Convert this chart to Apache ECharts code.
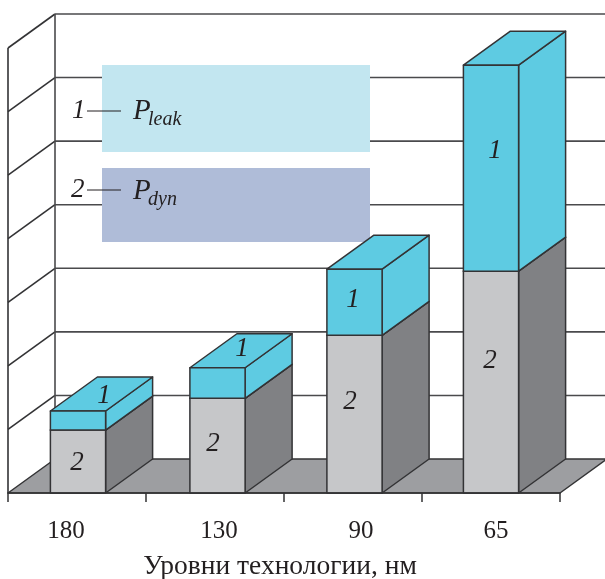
<!DOCTYPE html>
<html>
<head>
<meta charset="utf-8">
<style>
	html, body { margin: 0; background: #fff; }
	#chart { width: 605px; height: 579px; }
</style>
<script src="https://cdn.jsdelivr.net/npm/echarts@6/dist/echarts.min.js"></script>
</head>
<body>
<div id="chart"></div>
<script>
const categories = ['180', '130', '90', '65'];
const dynValues = [0.99, 1.49, 2.48, 3.49];
const leakValues = [0.3, 0.48, 1.04, 3.24];
const gridLevels = [0, 1, 2, 3, 4, 5, 6, 7];
const axisTitle = 'Уровни технологии, нм';

// oblique projection of the pseudo 3d bars, px
const depthX = 47,
	depthY = 34,
	line = '#333335',
	serif = '"Liberation Serif", serif',
	// the original is hand drawn: bars and tick labels sit a little off the band centres
	barShift = [1, 2.5, 1.5, 0],
	tickShift = [-11, 4, 8, 5],
	// hand placement of the numbers on the bars, px from the band and segment centre
	dynShift = [[0, 1], [-2, -2], [-3, -12], [-1, -21]],
	leakShift = [[27, -25], [27, -34], [0, -2], [4, -17]],
	colors = {
		leakFront: '#5ecbe2',
		leakTop: '#5ecbe2',
		leakSide: '#5ecbe2',
		dynFront: '#c6c7c9',
		dynTop: '#c6c7c9',
		dynSide: '#808184',
		floor: '#9d9ea1',
	};

const poly = (points, fill) => ({
		type: 'polygon',
		shape: { points },
		style: { fill, stroke: line, lineWidth: 1.5, lineJoin: 'round' },
	}),
	seg = (x1, y1, x2, y2, stroke = '#4a4a4c') => ({
		type: 'line',
		shape: { x1, y1, x2, y2 },
		style: { stroke, lineWidth: 1.6 },
	});

const renderWall = (params, api) => {
		const level = api.value(0),
			band = api.size([1, 0])[0],
			y = api.coord([0, level])[1],
			x0 = api.coord([0, 0])[0] - band / 2,
			x1 = api.coord([categories.length - 1, 0])[0] + band / 2,
			children = [];

		if (level === 0) {
			children.push(poly([[x0, y], [x1, y], [x1 + depthX, y - depthY], [x0 + depthX, y - depthY]], colors.floor));
			return { type: 'group', children };
		}
		children.push(seg(x0, y, x0 + depthX, y - depthY, line));
		children.push(seg(x0 + depthX, y - depthY, x1 + depthX, y - depthY));
		if (level === gridLevels[gridLevels.length - 1]) {
			const y0 = api.coord([0, 0])[1];
			children.push(seg(x0, y, x0, y0, line));
			children.push(seg(x0 + depthX, y - depthY, x0 + depthX, y0 - depthY));
		}
		return { type: 'group', children };
	},
	renderBar = (names, shifts) => (params, api) => {
		const idx = api.value(0),
			band = api.size([1, 0])[0],
			w = band * 0.4,
			cx = api.coord([idx, 0])[0],
			yLow = api.coord([idx, api.value(1)])[1],
			yHigh = api.coord([idx, api.value(2)])[1],
			l = cx + barShift[idx] - w / 2,
			r = cx + barShift[idx] + w / 2,
			shift = shifts[idx];

		return {
			type: 'group',
			children: [
				poly([[r, yLow], [r + depthX, yLow - depthY], [r + depthX, yHigh - depthY], [r, yHigh]], colors[names + 'Side']),
				poly([[l, yHigh], [r, yHigh], [r + depthX, yHigh - depthY], [l + depthX, yHigh - depthY]], colors[names + 'Top']),
				poly([[l, yLow], [r, yLow], [r, yHigh], [l, yHigh]], colors[names + 'Front']),
				{
					type: 'text',
					z2: 10,
					style: {
						text: names === 'leak' ? '1' : '2',
						x: cx + shift[0],
						y: (yLow + yHigh) / 2 + shift[1],
						align: 'center',
						verticalAlign: 'middle',
						font: 'italic 27px ' + serif,
						fill: '#231f20',
					},
				},
			],
		};
	};

const legendText = (text, x, y, size) => ({
		type: 'text',
		z: 1,
		style: { text, x, y, font: 'italic ' + size + 'px ' + serif, fill: '#231f20', verticalAlign: 'middle' },
	}),
	legendRect = (x, y, width, height, fill) => ({
		type: 'rect',
		z: 1,
		shape: { x, y, width, height },
		style: { fill },
	}),
	legendLine = (x1, x2, y) => ({
		type: 'line',
		z: 1,
		shape: { x1, y1: y, x2, y2: y },
		style: { stroke: '#231f20', lineWidth: 1 },
	});

// padding on one side of a rich token moves the centred label the other way
const tickRich = Object.fromEntries(
	tickShift.map((s, i) => [
		't' + i,
		{
			color: '#231f20',
			fontFamily: 'Liberation Serif',
			fontSize: 25,
			padding: [0, s < 0 ? -2 * s : 0, 0, s > 0 ? 2 * s : 0],
		},
	]),
);

const chart = echarts.init(document.getElementById('chart'), null, { renderer: 'canvas' });

chart.setOption({
	animation: false,
	backgroundColor: '#fff',
	grid: { left: 8, right: 45, top: 48, bottom: 86, outerBoundsMode: 'none' },
	xAxis: {
		type: 'category',
		data: categories,
		z: 5,
		axisLine: { lineStyle: { color: line, width: 1.5 } },
		axisTick: { show: true, length: 9, lineStyle: { color: line, width: 1.5 } },
		axisLabel: {
			margin: 26,
			formatter: (value, i) => '{t' + i + '|' + value + '}',
			rich: tickRich,
		},
		name: axisTitle,
		nameLocation: 'middle',
		nameGap: 60,
		nameTextStyle: { color: '#231f20', fontFamily: 'Liberation Serif', fontSize: 27.5, padding: [0, 8, 0, 0] },
	},
	yAxis: {
		type: 'value',
		min: 0,
		max: 7,
		interval: 1,
		axisLine: { show: false },
		axisTick: { show: false },
		axisLabel: { show: false },
		splitLine: { show: false },
	},
	graphic: [
		legendRect(102, 65, 268, 87, '#c2e6f0'),
		legendRect(102, 168, 268, 74, '#afbcd8'),
		legendLine(87, 121, 111),
		legendLine(87, 121, 190),
		legendText('1', 72, 111, 27),
		legendText('2', 71, 190, 27),
		legendText('P', 133, 111, 29),
		legendText('leak', 148, 120, 20),
		legendText('P', 133, 191, 29),
		legendText('dyn', 148, 200, 20),
	],
	series: [
		{
			type: 'custom',
			z: 0,
			silent: true,
			renderItem: renderWall,
			encode: { y: 0 },
			data: gridLevels.map((v) => [v]),
		},
		{
			type: 'custom',
			z: 3,
			renderItem: renderBar('dyn', dynShift),
			data: dynValues.map((v, i) => [i, 0, v]),
		},
		{
			type: 'custom',
			z: 3,
			renderItem: renderBar('leak', leakShift),
			data: leakValues.map((v, i) => [i, dynValues[i], dynValues[i] + v]),
		},
	],
});
</script>
</body>
</html>
